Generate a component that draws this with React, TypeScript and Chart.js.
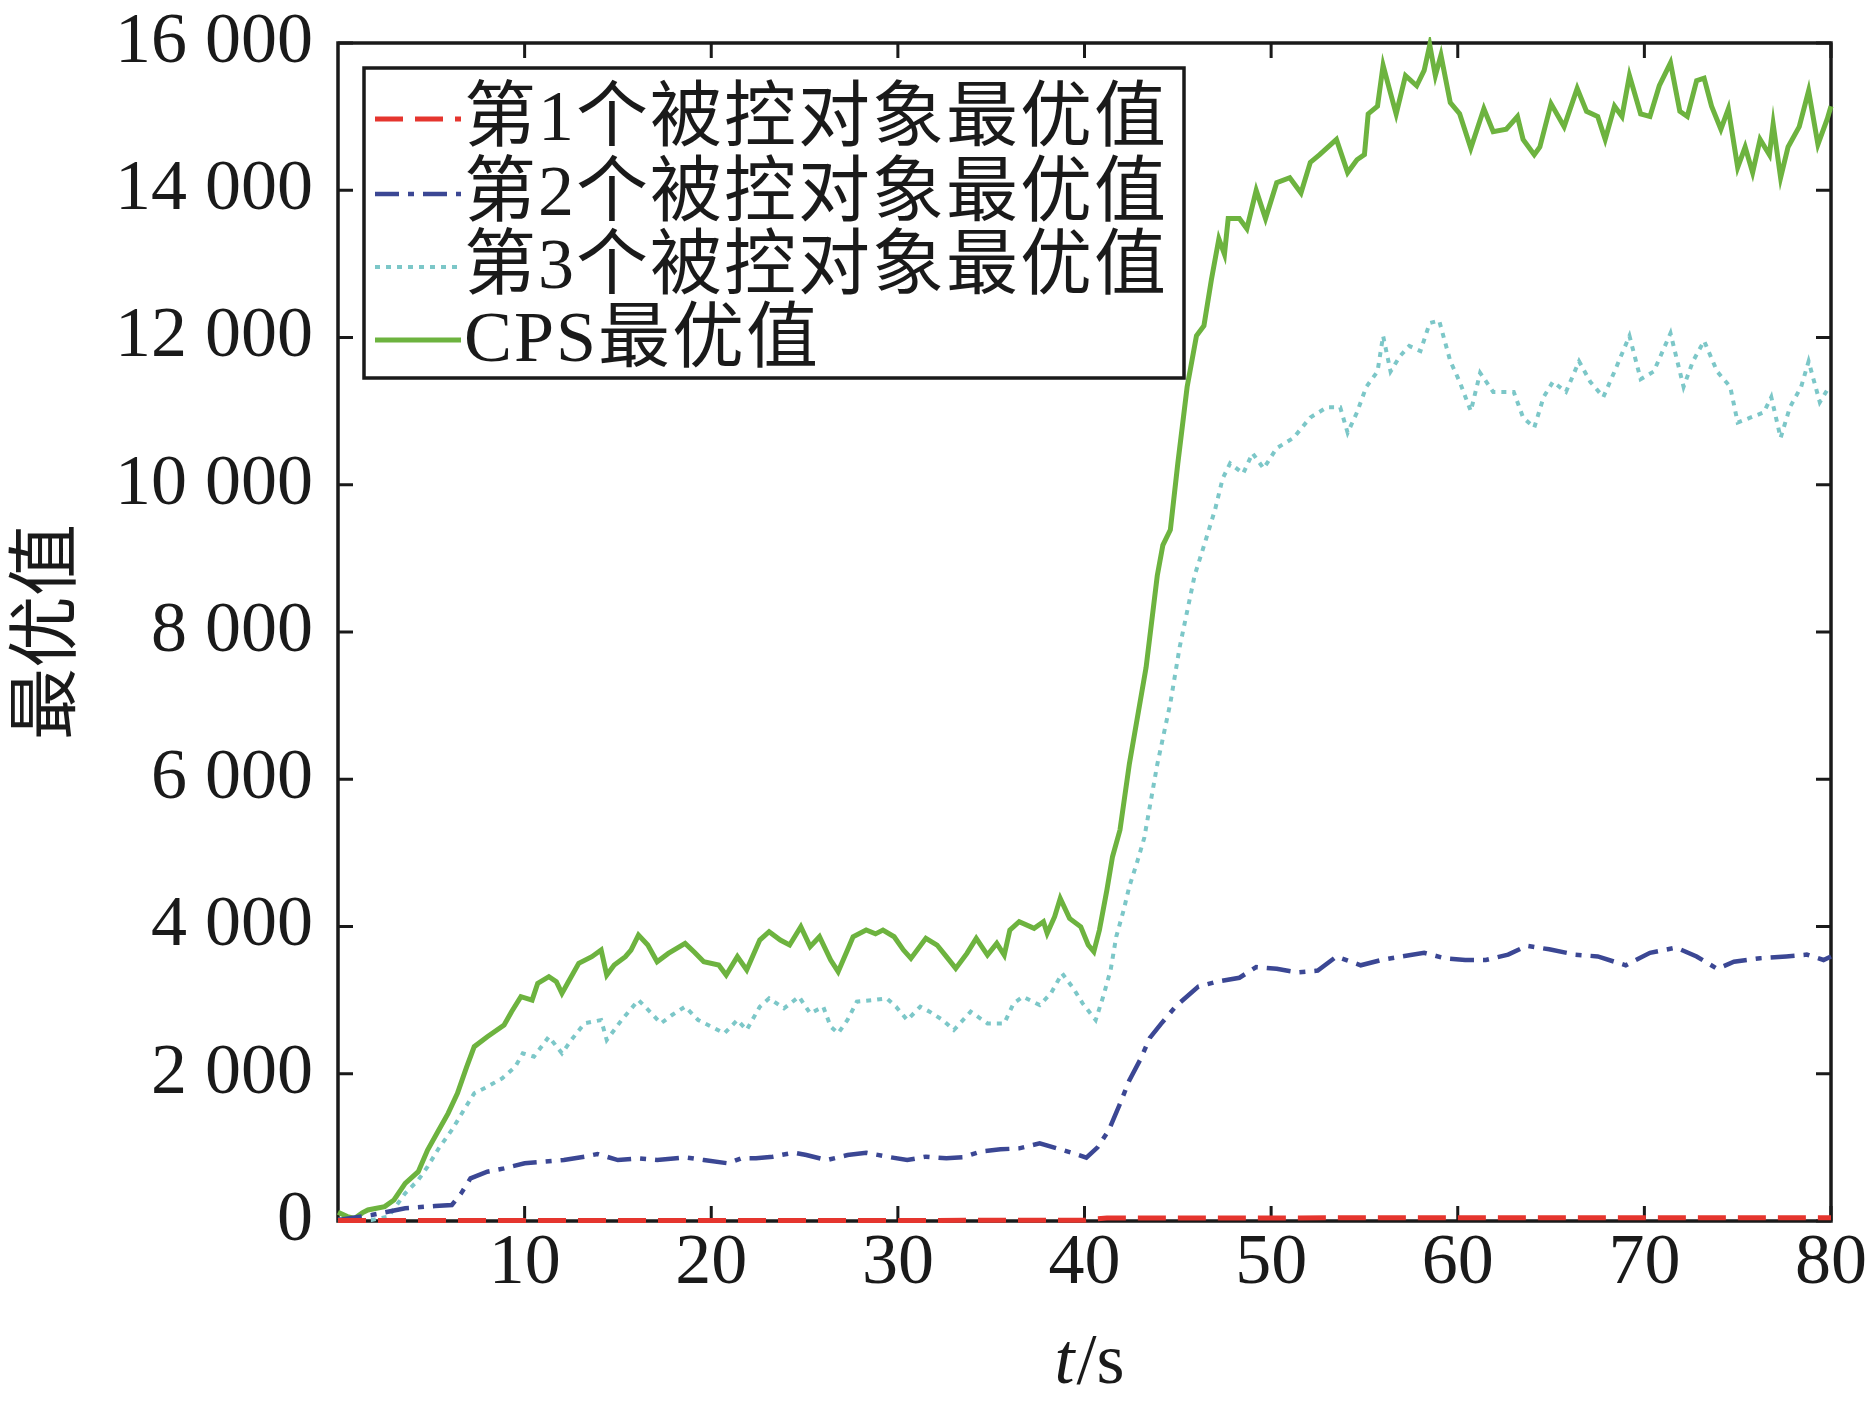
import React, { useEffect, useRef } from 'react';
import { Chart, registerables } from 'chart.js';

Chart.register(...registerables);

// ---------- data ----------
const SERIES_LABELS = ['第1个被控对象最优值', '第2个被控对象最优值', '第3个被控对象最优值', 'CPS最优值'];
const X_TICKS = [10, 20, 30, 40, 50, 60, 70, 80];
const Y_TICKS = [0, 2000, 4000, 6000, 8000, 10000, 12000, 14000, 16000];

// 第1个被控对象
const obj1T = [0, 10, 20, 30, 40, 40.6, 41.2, 50, 60, 70, 80];
const obj1V = [8, 8, 8, 8, 10, 30, 40, 42, 45, 45, 45];

// 第2个被控对象
const obj2T = [0, 1.8, 3.6, 5.2, 6.1, 6.6, 7.1, 8.0, 8.9, 10.0, 11.1, 12.1, 13.2, 13.9, 15.0, 16.1, 17.1, 18.6, 19.6, 20.9, 21.6, 22.4, 23.3, 24.4, 25.1, 26.2, 27.3, 28.3, 29.4, 30.5, 31.5, 32.6, 33.5, 34.4, 35.5, 36.5, 37.6, 38.7, 39.4, 40.1, 40.7, 41.3, 41.9, 42.4, 43.0, 43.5, 44.1, 44.9, 46.1, 47.2, 48.3, 49.2, 50.3, 51.4, 52.5, 53.5, 54.8, 55.9, 57.0, 58.2, 59.3, 60.4, 61.5, 62.7, 63.7, 64.9, 66.3, 67.5, 69.0, 70.3, 71.7, 72.8, 73.9, 74.8, 76.2, 77.6, 78.7, 79.6, 80];
const obj2V = [14, 81, 172, 204, 217, 376, 579, 670, 715, 783, 806, 828, 874, 910, 828, 851, 828, 865, 828, 783, 851, 851, 874, 928, 896, 828, 896, 928, 874, 828, 874, 851, 865, 942, 973, 987, 1055, 973, 919, 860, 1000, 1233, 1590, 1910, 2197, 2486, 2678, 2919, 3184, 3256, 3304, 3449, 3425, 3377, 3401, 3593, 3473, 3545, 3593, 3642, 3569, 3545, 3545, 3618, 3738, 3690, 3618, 3593, 3473, 3642, 3714, 3593, 3425, 3521, 3569, 3593, 3618, 3545, 3593];

// 第3个被控对象
const obj3T = [0, 0.5, 1.0, 1.8, 2.7, 3.6, 4.3, 4.8, 5.4, 6.1, 6.8, 7.3, 8.0, 8.8, 9.5, 9.9, 10.5, 11.3, 12.0, 12.5, 13.2, 14.1, 14.4, 15.2, 16.1, 16.8, 17.3, 17.9, 18.6, 19.3, 20.0, 20.7, 21.4, 21.9, 22.6, 23.1, 23.9, 24.7, 25.3, 26.0, 26.4, 26.8, 27.3, 27.8, 28.7, 29.4, 29.9, 30.5, 31.2, 31.7, 32.4, 33.0, 33.9, 34.8, 35.7, 36.2, 36.7, 37.6, 38.2, 38.8, 39.4, 39.9, 40.6, 41.0, 41.4, 41.7, 42.1, 42.4, 42.8, 43.2, 43.9, 44.6, 45.1, 45.5, 45.9, 46.5, 47.0, 47.4, 47.8, 48.5, 49.0, 49.6, 50.3, 51.2, 52.1, 53.0, 53.7, 54.1, 54.6, 55.1, 55.7, 56.0, 56.4, 56.9, 57.4, 58.0, 58.5, 59.0, 59.6, 60.1, 60.7, 61.2, 61.9, 63.0, 63.5, 64.1, 64.6, 65.1, 65.8, 66.5, 67.1, 67.8, 68.4, 69.2, 69.8, 70.5, 71.4, 72.1, 72.6, 73.2, 73.9, 74.6, 75.0, 75.7, 76.4, 76.8, 77.3, 77.8, 78.4, 78.8, 79.4, 79.9];
const obj3V = [20, 0, 10, 14, 59, 376, 557, 738, 987, 1236, 1530, 1734, 1824, 1938, 2096, 2277, 2232, 2503, 2277, 2458, 2684, 2730, 2458, 2730, 3001, 2820, 2684, 2798, 2911, 2730, 2639, 2549, 2730, 2594, 2911, 3024, 2888, 3047, 2820, 2911, 2639, 2549, 2730, 2979, 3001, 3024, 2911, 2730, 2911, 2843, 2730, 2594, 2843, 2684, 2684, 2956, 3047, 2933, 3092, 3363, 3160, 2956, 2730, 3047, 3409, 3861, 4224, 4541, 4858, 5200, 6202, 7034, 7795, 8280, 8766, 9251, 9666, 10082, 10290, 10152, 10429, 10221, 10498, 10637, 10914, 11053, 11053, 10706, 10983, 11330, 11538, 12022, 11538, 11746, 11885, 11816, 12197, 12231, 11680, 11400, 11000, 11520, 11261, 11261, 10914, 10775, 11191, 11399, 11261, 11676, 11399, 11191, 11538, 12022, 11434, 11538, 12057, 11330, 11676, 11954, 11538, 11330, 10844, 10914, 10983, 11191, 10637, 11053, 11330, 11676, 11122, 11330];

// CPS
const cpsT = [0, 0.5, 0.9, 1.3, 1.6, 2.0, 2.5, 3.0, 3.6, 4.3, 4.8, 5.4, 5.9, 6.4, 6.9, 7.3, 8.0, 8.9, 9.3, 9.8, 10.4, 10.7, 11.3, 11.7, 12.0, 12.3, 12.9, 13.6, 14.1, 14.4, 14.8, 15.4, 15.7, 16.1, 16.6, 17.1, 17.7, 18.6, 19.1, 19.6, 20.4, 20.8, 21.4, 21.9, 22.6, 23.1, 23.7, 24.2, 24.8, 25.3, 25.8, 26.4, 26.8, 27.3, 27.6, 28.3, 28.8, 29.2, 29.8, 30.3, 30.7, 31.5, 32.1, 32.6, 33.1, 33.7, 34.2, 34.8, 35.3, 35.7, 36.0, 36.5, 37.3, 37.8, 38.0, 38.4, 38.7, 39.2, 39.8, 40.2, 40.5, 40.8, 41.2, 41.5, 41.9, 42.4, 43.3, 43.9, 44.2, 44.6, 45.0, 45.5, 46.0, 46.4, 46.8, 47.2, 47.5, 47.7, 48.3, 48.7, 49.2, 49.7, 50.3, 51.0, 51.6, 52.1, 52.6, 53.5, 54.1, 54.6, 55.0, 55.2, 55.7, 56.0, 56.4, 56.7, 57.2, 57.8, 58.2, 58.5, 58.8, 59.1, 59.6, 60.1, 60.7, 61.4, 61.9, 62.6, 63.2, 63.5, 64.1, 64.4, 65.0, 65.7, 66.4, 66.9, 67.5, 67.9, 68.4, 68.8, 69.2, 69.8, 70.3, 70.8, 71.4, 71.9, 72.3, 72.8, 73.2, 73.6, 74.1, 74.5, 75.0, 75.4, 75.8, 76.2, 76.7, 76.9, 77.3, 77.7, 78.3, 78.8, 79.3, 79.8, 80.0];
const cpsV = [120, 60, 36, 110, 150, 170, 195, 285, 510, 670, 964, 1236, 1462, 1734, 2096, 2368, 2503, 2662, 2843, 3047, 3001, 3228, 3318, 3250, 3092, 3228, 3499, 3590, 3680, 3341, 3477, 3590, 3680, 3884, 3748, 3522, 3635, 3771, 3650, 3522, 3477, 3341, 3590, 3409, 3816, 3929, 3816, 3748, 3997, 3726, 3861, 3545, 3386, 3680, 3861, 3952, 3900, 3952, 3861, 3680, 3567, 3839, 3748, 3590, 3431, 3635, 3839, 3612, 3771, 3612, 3952, 4065, 3975, 4065, 3907, 4133, 4382, 4110, 3997, 3748, 3658, 3952, 4495, 4948, 5310, 6202, 7518, 8766, 9181, 9389, 10290, 11330, 12022, 12161, 12785, 13339, 13131, 13616, 13616, 13478, 13998, 13616, 14102, 14171, 13963, 14379, 14483, 14691, 14240, 14414, 14483, 15037, 15141, 15696, 15315, 15037, 15557, 15419, 15627, 15973, 15557, 15834, 15190, 15040, 14570, 15106, 14795, 14829, 15002, 14691, 14483, 14587, 15175, 14864, 15384, 15072, 15002, 14691, 15141, 15002, 15557, 15037, 15002, 15419, 15730, 15072, 15002, 15488, 15523, 15141, 14829, 15106, 14310, 14587, 14240, 14691, 14483, 14899, 14171, 14587, 14864, 15350, 14622, 14968, 15141];

// ---------- styles ----------
const SERIF = "'Liberation Serif', 'Times New Roman', 'Noto Sans CJK SC', serif";
const TEXT_FONT = "72px 'Liberation Serif', 'Noto Sans CJK SC', serif";
const INK = '#1a1a1a';

const toPts = (t: number[], v: number[]) => t.map((x, i) => ({ x, y: v[i] }));

const fmtY = (v: number) => (v === 0 ? '0' : `${Math.round(v / 1000)} 000`);

const decorPlugin = {
  id: 'decor',
  beforeDatasetsDraw(chart: any) {
    const { ctx, chartArea: a, scales } = chart;
    const xs = scales.x;
    const ys = scales.y;
    const L = 15;
    ctx.save();
    ctx.strokeStyle = INK;
    ctx.lineWidth = 3;
    ctx.beginPath();
    X_TICKS.forEach((v) => {
      const px = xs.getPixelForValue(v);
      ctx.moveTo(px, a.bottom);
      ctx.lineTo(px, a.bottom - L);
      ctx.moveTo(px, a.top);
      ctx.lineTo(px, a.top + L);
    });
    Y_TICKS.forEach((v) => {
      const py = ys.getPixelForValue(v);
      ctx.moveTo(a.left, py);
      ctx.lineTo(a.left + L, py);
      ctx.moveTo(a.right, py);
      ctx.lineTo(a.right - L, py);
    });
    ctx.stroke();
    ctx.lineWidth = 3.5;
    ctx.strokeRect(a.left, a.top, a.right - a.left, a.bottom - a.top);
    ctx.restore();
  },
  afterDatasetsDraw(chart: any) {
    const { ctx, chartArea: a } = chart;
    ctx.save();
    // legend box
    const bx = a.left + 26;
    const by = a.top + 25;
    const bw = 820;
    const bh = 310;
    ctx.fillStyle = '#ffffff';
    ctx.fillRect(bx, by, bw, bh);
    ctx.strokeStyle = INK;
    ctx.lineWidth = 3.5;
    ctx.strokeRect(bx, by, bw, bh);
    const rowY = [by + 51, by + 126, by + 199, by + 272];
    chart.data.datasets.forEach((ds: any, i: number) => {
      const y = rowY[i];
      ctx.save();
      ctx.strokeStyle = ds.borderColor;
      ctx.lineWidth = ds.borderWidth;
      ctx.setLineDash(ds.borderDash || []);
      ctx.beginPath();
      ctx.moveTo(bx + 11, y);
      ctx.lineTo(bx + 97, y);
      ctx.stroke();
      ctx.restore();
      ctx.save();
      ctx.fillStyle = INK;
      ctx.font = TEXT_FONT;
      ctx.textBaseline = 'middle';
      ctx.textAlign = 'left';
      (ctx as any).letterSpacing = '2px';
      ctx.fillText(ds.label, bx + 100, y + 2);
      ctx.restore();
    });
    ctx.restore();
  },
  afterDraw(chart: any) {
    const { ctx, chartArea: a } = chart;
    ctx.save();
    ctx.fillStyle = INK;
    // y title
    ctx.translate(42, (a.top + a.bottom) / 2);
    ctx.rotate(-Math.PI / 2);
    ctx.font = "72px 'Noto Sans CJK SC', serif";
    ctx.textAlign = 'center';
    ctx.textBaseline = 'middle';
    ctx.fillText('最优值', 0, 0);
    ctx.restore();
    // x title: t/s
    ctx.save();
    ctx.fillStyle = INK;
    ctx.textBaseline = 'alphabetic';
    ctx.textAlign = 'left';
    const italic = `italic 72px ${SERIF}`;
    const regular = `72px ${SERIF}`;
    ctx.font = italic;
    const wt = ctx.measureText('t').width;
    ctx.font = regular;
    const ws = ctx.measureText('/s').width;
    const cx = (a.left + a.right) / 2 + 4;
    const startX = cx - (wt + ws) / 2;
    const baseY = 1383;
    ctx.font = italic;
    ctx.fillText('t', startX, baseY);
    ctx.font = regular;
    ctx.fillText('/s', startX + wt + 2, baseY);
    ctx.restore();
  },
};

export default function App() {
  const ref = useRef<HTMLCanvasElement | null>(null);

  useEffect(() => {
    if (!ref.current) return;
    const chart = new Chart(ref.current, {
      type: 'line',
      data: {
        datasets: [
          {
            label: SERIES_LABELS[0],
            data: toPts(obj1T, obj1V),
            borderColor: '#e5352e',
            borderWidth: 5,
            borderDash: [28, 12],
            pointRadius: 0,
            fill: false,
            tension: 0,
            clip: 6,
          },
          {
            label: SERIES_LABELS[1],
            data: toPts(obj2T, obj2V),
            borderColor: '#3b4794',
            borderWidth: 4.5,
            borderDash: [24, 9, 6, 9],
            pointRadius: 0,
            fill: false,
            tension: 0,
            clip: 6,
          },
          {
            label: SERIES_LABELS[2],
            data: toPts(obj3T, obj3V),
            borderColor: '#7cc7c8',
            borderWidth: 4,
            borderDash: [5, 6],
            pointRadius: 0,
            fill: false,
            tension: 0,
            clip: 6,
          },
          {
            label: SERIES_LABELS[3],
            data: toPts(cpsT, cpsV),
            borderColor: '#6db33f',
            borderWidth: 5,
            pointRadius: 0,
            fill: false,
            tension: 0,
            clip: 6,
          },
        ],
      },
      options: {
        responsive: false,
        animation: false,
        devicePixelRatio: 1,
        layout: { padding: { left: 0, right: 42, top: 43, bottom: 0 } },
        plugins: {
          legend: { display: false },
          tooltip: { enabled: false },
        },
        scales: {
          x: {
            type: 'linear',
            min: 0,
            max: 80,
            afterFit: (s: any) => {
              s.height = 185;
            },
            ticks: {
              stepSize: 10,
              autoSkip: false,
              maxRotation: 0,
              padding: 0,
              color: INK,
              font: { family: SERIF, size: 72 },
              callback: (v: any) => (v === 0 ? '' : String(v)),
            },
            grid: { display: true, drawOnChartArea: false, drawTicks: false, color: 'rgba(0,0,0,0)' },
            border: { display: false },
          },
          y: {
            type: 'linear',
            min: 0,
            max: 16000,
            afterFit: (s: any) => {
              s.width = 338;
            },
            ticks: {
              stepSize: 2000,
              autoSkip: false,
              padding: 25,
              color: INK,
              font: { family: SERIF, size: 72, lineHeight: 0.5 },
              callback: (v: any) => fmtY(Number(v)),
            },
            grid: { display: true, drawOnChartArea: false, drawTicks: false, color: 'rgba(0,0,0,0)' },
            border: { display: false },
          },
        },
      },
      plugins: [decorPlugin],
    } as any);
    return () => chart.destroy();
  }, []);

  return (
    <div style={{ position: 'absolute', left: 0, top: 0, width: 1873, height: 1406, background: '#ffffff' }}>
      <canvas ref={ref} width={1873} height={1406} style={{ display: 'block' }} />
    </div>
  );
}
